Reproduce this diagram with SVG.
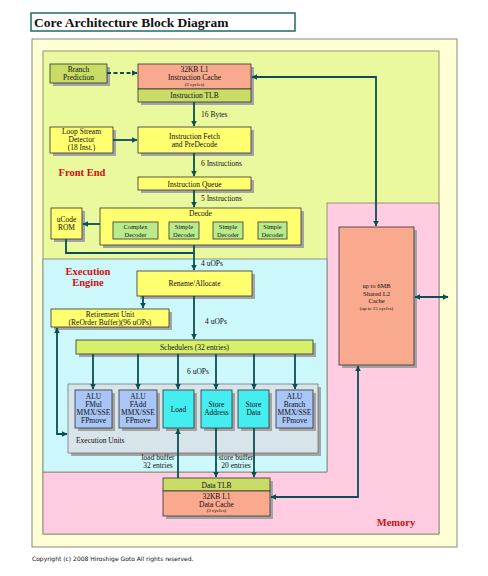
<svg xmlns="http://www.w3.org/2000/svg" width="488" height="576" viewBox="0 0 488 576">
<defs>
<marker id="ah" viewBox="0 0 10 10" refX="9" refY="5" markerWidth="3.2" markerHeight="3.2" orient="auto-start-reverse" markerUnits="strokeWidth">
<path d="M0,0 L10,5 L0,10 z" fill="#0b4f52"/>
</marker>
</defs>
<style>
text{font-family:"Liberation Serif","Times New Roman",serif;fill:#111;text-anchor:middle}
.t{font-size:7.5px}
.d{font-size:6.5px}
.s{font-size:5px}
.red{font-size:10.5px;font-weight:bold;fill:#d01010}
.sh{fill:#a4a4a4}
.bx{stroke:#333;stroke-width:0.8}
.sal{fill:#f8a98e}
.olv{fill:#c9dc66}
.yel{fill:#ffff70}
.dec{fill:#b9ea8c}
.sch{fill:#d6f06c}
.alu{fill:#a9c6f6}
.cy{fill:#44eef0}
.eu{fill:#d7e4ea}
.ln{fill:none;stroke:#0b4f52;stroke-width:1.8}
.lbl{font-size:7.5px;text-anchor:start}
</style>
<rect width="488" height="576" fill="#ffffff"/>
<g id="title">
<rect x="31" y="13" width="264" height="18" fill="#ffffff" stroke="#1f6a6a" stroke-width="1.5"/>
<text x="34" y="27" style="font-size:13.5px;font-weight:bold;text-anchor:start">Core Architecture Block Diagram</text>
</g>
<g id="panels">
<rect x="32" y="39" width="425" height="508" fill="#ffffd6" stroke="#8a8a80" stroke-width="1"/>
<rect x="43" y="51" width="396" height="483" fill="#ebf99e" stroke="#7d7d60" stroke-width="0.8"/>
<path d="M327,203 H439 V534 H43 V472 H327 Z" fill="#ffcce2" stroke="#7d7d70" stroke-width="0.8"/>
<rect x="43" y="259" width="284" height="213" fill="#ccf7fb" stroke="#7d7d70" stroke-width="0.8"/>
<text class="red" x="82" y="176">Front End</text>
<text class="red" x="88" y="275">Execution</text>
<text class="red" x="88" y="286">Engine</text>
<text class="red" x="396" y="526">Memory</text>
</g>
<g id="branch-prediction">
<rect class="sh" x="53" y="67" width="57" height="19"/>
<rect class="bx olv" x="50" y="64" width="57" height="19"/>
<text class="t" x="78.5" y="72">Branch</text>
<text class="t" x="78.5" y="80">Prediction</text>
</g>
<g id="instruction-cache">
<rect class="sh" x="141" y="67" width="113" height="38"/>
<rect class="bx sal" x="138" y="64" width="113" height="25"/>
<rect class="bx olv" x="138" y="89" width="113" height="13"/>
<text class="t" x="194.5" y="72">32KB L1</text>
<text class="t" x="194.5" y="80">Instruction Cache</text>
<text class="s" x="194.5" y="86">(3 cycles)</text>
<text class="t" x="194.5" y="98">Instruction TLB</text>
</g>
<g id="loop-stream-detector">
<rect class="sh" x="53" y="130" width="63" height="26"/>
<rect class="bx yel" x="50" y="127" width="63" height="26"/>
<text class="t" x="81.5" y="134">Loop Stream</text>
<text class="t" x="81.5" y="142">Detector</text>
<text class="t" x="81.5" y="150">(18 Inst.)</text>
</g>
<g id="instruction-fetch">
<rect class="sh" x="141" y="130" width="113" height="26"/>
<rect class="bx yel" x="138" y="127" width="113" height="26"/>
<text class="t" x="194.5" y="139">Instruction Fetch</text>
<text class="t" x="194.5" y="147">and PreDecode</text>
</g>
<g id="instruction-queue">
<rect class="sh" x="141" y="180" width="113" height="13"/>
<rect class="bx yel" x="138" y="177" width="113" height="13"/>
<text class="t" x="194.5" y="186.5">Instruction Queue</text>
</g>
<g id="ucode-rom">
<rect class="sh" x="54" y="211" width="31" height="31"/>
<rect class="bx yel" x="51" y="208" width="31" height="31"/>
<text class="t" x="66.5" y="222">uCode</text>
<text class="t" x="66.5" y="230">ROM</text>
</g>
<g id="decode">
<rect class="sh" x="103" y="211" width="201" height="37"/>
<rect class="bx yel" x="100" y="208" width="201" height="37"/>
<text class="t" x="200.5" y="215.5">Decode</text>
<rect class="bx dec" x="113" y="222" width="45" height="17"/>
<text class="d" x="135.5" y="229">Complex</text>
<text class="d" x="135.5" y="236.5">Decoder</text>
<rect class="bx dec" x="169" y="222" width="30" height="17"/>
<text class="d" x="184" y="229">Simple</text>
<text class="d" x="184" y="236.5">Decoder</text>
<rect class="bx dec" x="213" y="222" width="30" height="17"/>
<text class="d" x="228" y="229">Simple</text>
<text class="d" x="228" y="236.5">Decoder</text>
<rect class="bx dec" x="258" y="222" width="29" height="17"/>
<text class="d" x="272.5" y="229">Simple</text>
<text class="d" x="272.5" y="236.5">Decoder</text>
</g>
<g id="rename-allocate">
<rect class="sh" x="140" y="274" width="115" height="25"/>
<rect class="bx yel" x="137" y="271" width="115" height="25"/>
<text class="t" x="194.5" y="286">Rename/Allocate</text>
</g>
<g id="retirement-unit">
<rect class="sh" x="54" y="312" width="118" height="18"/>
<rect class="bx yel" x="51" y="309" width="118" height="18"/>
<text class="t" x="110" y="316.5">Retirement Unit</text>
<text class="t" x="110" y="324.5">(ReOrder Buffer)(96 uOPs)</text>
</g>
<g id="schedulers">
<rect class="sh" x="79" y="343" width="237" height="14"/>
<rect class="bx sch" x="76" y="340" width="237" height="14"/>
<text class="t" x="194.5" y="350">Schedulers (32 entries)</text>
</g>
<g id="execution-units">
<rect class="sh" x="71" y="387" width="250" height="69"/>
<rect x="68" y="384" width="250" height="69" class="eu" stroke="#555" stroke-width="0.6"/>
<text class="t" x="76" y="443" style="text-anchor:start">Execution Units</text>
<rect class="sh" x="78" y="393" width="37" height="38"/>
<rect class="bx alu" x="75" y="390" width="37" height="38" stroke-width="1.2"/>
<text class="t" x="93.5" y="399">ALU</text>
<text class="t" x="93.5" y="407">FMul</text>
<text class="t" x="93.5" y="415">MMX/SSE</text>
<text class="t" x="93.5" y="423">FPmove</text>
<rect class="sh" x="122" y="393" width="38" height="38"/>
<rect class="bx alu" x="119" y="390" width="38" height="38" stroke-width="1.2"/>
<text class="t" x="138" y="399">ALU</text>
<text class="t" x="138" y="407">FAdd</text>
<text class="t" x="138" y="415">MMX/SSE</text>
<text class="t" x="138" y="423">FPmove</text>
<rect class="sh" x="166" y="393" width="31" height="38"/>
<rect class="bx cy" x="163" y="390" width="31" height="38" stroke-width="1.2"/>
<text class="t" x="178.5" y="411.5">Load</text>
<rect class="sh" x="204" y="393" width="31" height="38"/>
<rect class="bx cy" x="201" y="390" width="31" height="38" stroke-width="1.2"/>
<text class="t" x="216.5" y="407">Store</text>
<text class="t" x="216.5" y="415">Address</text>
<rect class="sh" x="241" y="393" width="31" height="38"/>
<rect class="bx cy" x="238" y="390" width="31" height="38" stroke-width="1.2"/>
<text class="t" x="253.5" y="407">Store</text>
<text class="t" x="253.5" y="415">Data</text>
<rect class="sh" x="279" y="393" width="37" height="38"/>
<rect class="bx alu" x="276" y="390" width="37" height="38" stroke-width="1.2"/>
<text class="t" x="294.5" y="399">ALU</text>
<text class="t" x="294.5" y="407">Branch</text>
<text class="t" x="294.5" y="415">MMX/SSE</text>
<text class="t" x="294.5" y="423">FPmove</text>
</g>
<g id="data-cache">
<rect class="sh" x="166" y="481" width="107" height="38"/>
<rect class="bx olv" x="163" y="478" width="107" height="13"/>
<rect class="bx sal" x="163" y="491" width="107" height="25"/>
<text class="t" x="216.5" y="487.5">Data TLB</text>
<text class="t" x="216.5" y="499">32KB L1</text>
<text class="t" x="216.5" y="506.5">Data Cache</text>
<text class="s" x="216.5" y="512">(3 cycles)</text>
</g>
<g id="l2-cache">
<rect class="sh" x="342" y="230" width="75" height="138"/>
<rect class="bx sal" x="339" y="227" width="75" height="138"/>
<text class="d" x="376.5" y="288">up to 6MB</text>
<text class="d" x="376.5" y="295.5">Shared L2</text>
<text class="d" x="376.5" y="303">Cache</text>
<text class="s" x="376.5" y="309.5">(up to 15 cycles)</text>
</g>
<g id="connectors">
<path class="ln" d="M107,73 H137" stroke-dasharray="4,2.5" marker-end="url(#ah)"/>
<path class="ln" d="M252,77 H376 V226" marker-start="url(#ah)" marker-end="url(#ah)"/>
<path class="ln" d="M194,102 V126" marker-end="url(#ah)"/>
<text class="lbl" x="201" y="117">16 Bytes</text>
<path class="ln" d="M113,140 H137" marker-end="url(#ah)"/>
<path class="ln" d="M194,153 V176" marker-end="url(#ah)"/>
<text class="lbl" x="201" y="166">6 Instructions</text>
<path class="ln" d="M194,190 V207" marker-end="url(#ah)"/>
<text class="lbl" x="201" y="201">5 Instructions</text>
<path class="ln" d="M100,224 H83" marker-end="url(#ah)"/>
<path class="ln" d="M66,239 V253 H194"/>
<path class="ln" d="M194,245 V270" marker-end="url(#ah)"/>
<text class="lbl" x="201" y="266">4 uOPs</text>
<path class="ln" d="M143,296 V308" marker-end="url(#ah)"/>
<path class="ln" d="M194,296 V339" marker-end="url(#ah)"/>
<text class="lbl" x="205" y="324">4 uOPs</text>
<path class="ln" d="M93,354 V389" marker-end="url(#ah)"/>
<path class="ln" d="M138,354 V389" marker-end="url(#ah)"/>
<path class="ln" d="M178,354 V389" marker-end="url(#ah)"/>
<path class="ln" d="M216,354 V389" marker-end="url(#ah)"/>
<path class="ln" d="M254,354 V389" marker-end="url(#ah)"/>
<path class="ln" d="M295,354 V389" marker-end="url(#ah)"/>
<text class="lbl" x="187" y="374">6 uOPs</text>
<path class="ln" d="M57,328 V434 H67" marker-start="url(#ah)" marker-end="url(#ah)"/>
<path class="ln" d="M178,478 V429" marker-end="url(#ah)"/>
<path class="ln" d="M216,428 V477" marker-end="url(#ah)"/>
<path class="ln" d="M254,428 V477" marker-end="url(#ah)"/>
<text class="t" x="158" y="460">load buffer</text>
<text class="t" x="158" y="468">32 entries</text>
<text class="t" x="236" y="460">store buffer</text>
<text class="t" x="236" y="468">20 entries</text>
<path class="ln" d="M358,366 V497 H271" marker-start="url(#ah)" marker-end="url(#ah)"/>
<path class="ln" d="M415,297 H448" marker-start="url(#ah)" marker-end="url(#ah)"/>
</g>
<text x="32" y="561" style="font-family:'DejaVu Sans','Noto Sans',sans-serif;font-size:6px;text-anchor:start">Copyright (c) 2008 Hiroshige Goto All rights reserved.</text>
</svg>
